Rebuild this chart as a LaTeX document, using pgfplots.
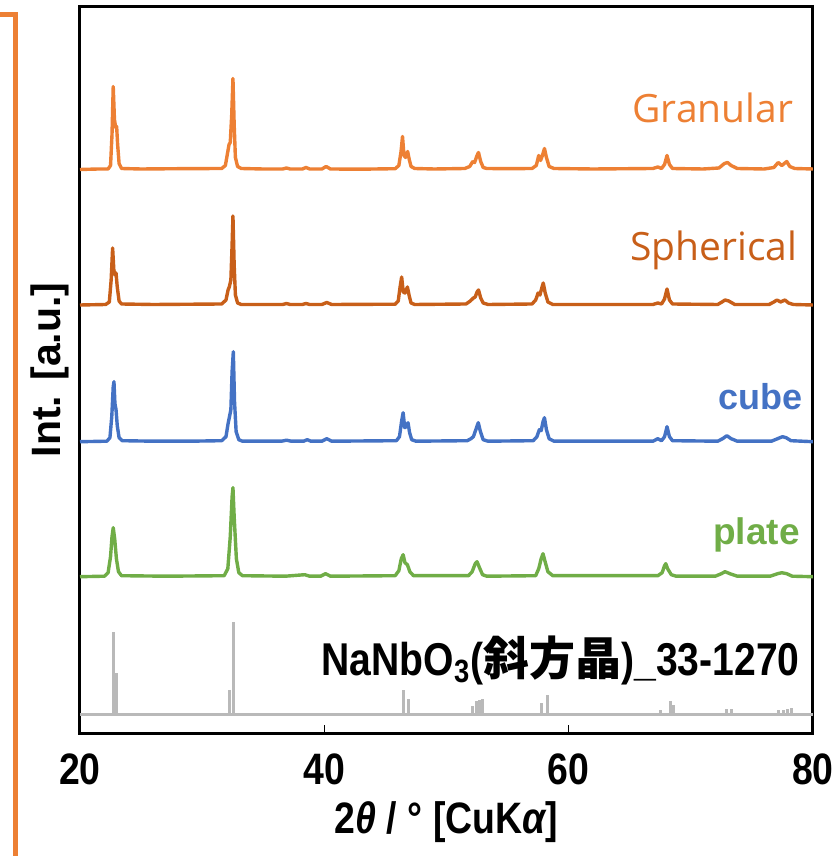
\documentclass[border=0pt]{standalone}
\usepackage{pgfplots}
\pgfplotsset{compat=1.18}
\usepackage{pgfplotstable}
\usepackage{fontspec}
\setmainfont{Liberation Sans}
\newfontfamily\narrowsans{Liberation Sans}[FakeStretch=0.85]
\newfontfamily\cjk{Noto Sans CJK JP}
\newfontfamily\labfont{Open Sans}
\definecolor{granc}{RGB}{237,128,52}
\definecolor{spherc}{RGB}{200,95,25}
\definecolor{cubec}{RGB}{68,114,196}
\definecolor{platec}{RGB}{112,173,71}
\definecolor{refc}{RGB}{185,185,185}

\pgfplotstableread{
x y
20 0
21.5 0.5
22.3 0.5
22.5 4
22.62 35
22.72 83
22.82 50
22.92 42
23.0 43
23.08 25
23.2 6
23.4 1
25 0.5
28 0.8
31.6 1
31.9 4
32.1 18
32.2 25
32.3 27
32.42 55
32.52 91
32.62 45
32.72 12
32.9 3
33.2 1
35 0.5
36.6 0.5
36.9 1.5
37.2 0.5
38.2 0.5
38.5 2
38.8 0.5
39.8 0.5
40.15 3
40.5 0.5
43 0.3
45.8 0.8
46.1 4
46.28 18
46.4 33
46.52 14
46.65 12
46.82 18
46.95 10
47.1 3
47.4 1
49 0.5
51.5 1
51.9 3
52.15 8
52.3 7
52.5 14
52.62 17
52.8 8
53.0 2
53.3 1
55 0.8
57.0 1
57.35 4
57.55 14
57.7 9
57.85 14
58.02 21
58.18 12
58.4 3
58.8 1
62 0.5
66.9 1
67.3 2.5
67.6 1
67.85 5
68.05 14
68.25 5
68.5 1
71 0.5
72.3 1.5
72.75 6
73.0 7
73.3 4
73.8 1
76 0.5
76.8 2
77.15 7
77.45 4
77.85 8
78.1 3
78.5 1
80 0.5
}\granular

\pgfplotstableread{
x y
20 0
22.1 0.5
22.4 3
22.55 25
22.67 57
22.77 35
22.87 30
22.95 32
23.05 18
23.2 4
23.4 1
26 0.5
31.6 1
31.95 5
32.12 15
32.22 18
32.35 25
32.45 60
32.52 89
32.62 40
32.72 10
32.9 2
33.2 0.5
36.6 0.5
36.9 1.5
37.2 0.5
38.2 0.5
38.5 1.5
38.8 0.5
39.8 0.5
40.2 2.5
40.6 0.5
45.8 0.8
46.05 4
46.2 18
46.33 28
46.46 13
46.6 12
46.8 18
46.95 9
47.1 2
47.4 0.5
51.6 1
51.95 4
52.2 7
52.35 8
52.5 13
52.62 15
52.8 7
53.0 2
53.4 0.5
57.0 1
57.3 5
57.5 12
57.65 10
57.8 17
57.92 22
58.08 12
58.3 3
58.7 0.5
66.9 0.5
67.3 2
67.6 1
67.85 6
68.05 16
68.25 5
68.5 1
72.2 0.5
72.55 3
72.8 5
73.1 4
73.6 0.5
76.4 0.5
76.8 3
77.05 5
77.35 3
77.7 5
78.0 2
78.4 0.5
80 0
}\spherical

\pgfplotstableread{
x y
20 0
22.2 0.5
22.45 4
22.6 25
22.72 55
22.78 60
22.86 38
22.95 32
23.05 16
23.2 4
23.45 1
26 0.5
29 0.5
31.6 1
31.95 5
32.12 18
32.22 24
32.35 32
32.45 70
32.55 90
32.65 40
32.78 10
33 2
33.3 0.5
36.5 0.5
36.9 1.5
37.3 0.5
38.3 0.5
38.6 2
38.9 0.5
39.8 0.5
40.2 3
40.6 0.5
45.9 1
46.15 5
46.32 20
46.45 29
46.58 14
46.7 15
46.85 19
46.98 9
47.15 2
47.5 0.5
51.7 1
52.0 3
52.2 5
52.4 12
52.6 19
52.78 10
53.0 2
53.4 0.5
57.1 1
57.4 5
57.6 12
57.75 11
57.9 20
58.02 24
58.18 12
58.4 3
58.8 0.5
66.9 0.5
67.3 3
67.6 1
67.85 5
68.05 15
68.25 5
68.5 1
72.2 0.5
72.6 3
72.95 6
73.3 3
73.8 0.5
76.6 0.5
77.1 3
77.5 5
77.8 4
78.2 1
80 0
}\cube

\pgfplotstableread{
x y
20 0
22.0 0.5
22.3 4
22.5 20
22.62 40
22.72 49
22.84 38
22.98 18
23.15 5
23.4 1
27 0.5
31.8 1
32.1 8
32.3 40
32.45 80
32.52 89
32.62 60
32.8 18
33.0 4
33.3 1
36.8 0.5
38.4 2
38.8 0.5
39.7 0.5
40.1 3
40.5 0.5
45.8 1
46.1 6
46.3 18
46.45 22
46.6 14
46.8 12
47.0 5
47.3 1
51.8 1
52.1 5
52.35 13
52.5 15
52.7 9
52.95 2
53.3 0.5
57.3 1
57.55 8
57.75 18
57.9 23
58.05 16
58.3 5
58.7 1
67.3 1
67.65 4
67.85 11
67.95 13
68.1 8
68.4 2
68.8 0.5
72.0 0.5
72.5 3
72.8 5
73.2 3
73.8 0.5
76.5 0.5
77.1 3
77.45 4
77.85 3
78.3 0.5
80 0
}\plate

\pgfplotstableread{
x y
22.72 82
22.98 41
32.22 24
32.55 92
36.9 1
38.4 1.5
46.45 24
46.92 15
52.15 8
52.45 13
52.68 14
52.95 15
57.75 11
58.25 19
67.55 4
68.3 13
68.55 9
72.9 5
73.3 5
77.2 4
77.55 4
77.9 5
78.25 6
}\refpat

\begin{document}
\begin{tikzpicture}
\begin{axis}[
  scale only axis,
  width=366.5pt, height=363pt,
  xmin=20, xmax=80, ymin=-19, ymax=707,
  xtick={20,40,60,80}, ytick=\empty,
  xtick pos=lower,
  major tick length=4pt,
  tick style={black, line width=0.8pt},
  axis line style={black, line width=1.5pt},
  /pgf/number format/assume math mode=true,
  xticklabel style={font=\narrowsans\bfseries\fontsize{22}{22}\selectfont, yshift=-7pt},
  xlabel={\narrowsans\bfseries\fontsize{22}{22}\selectfont 2{\itshape θ} / ° [CuK{\itshape α}]},
  xlabel style={at={(axis description cs:0.500,-0.123)}, anchor=center},
  ylabel={\bfseries\fontsize{20.5}{20.5}\selectfont Int. [a.u.]},
  ylabel style={at={(axis description cs:-0.041,0.5)}, anchor=center, rotate=0},
  clip=true,
]
\addplot[refc, line width=1.5pt] coordinates {(20,0) (80,0)};
\addplot[refc, ycomb, line width=1.5pt] table[x=x, y=y] {\refpat};
\addplot[platec, line width=1.7pt, line join=round] table[x=x, y expr=\thisrow{y}+137.3] {\plate};
\addplot[cubec, line width=1.7pt, line join=round] table[x=x, y expr=\thisrow{y}+272.3] {\cube};
\addplot[spherc, line width=1.7pt, line join=round] table[x=x, y expr=\thisrow{y}+409] {\spherical};
\addplot[granc, line width=1.7pt, line join=round] table[x=x, y expr=\thisrow{y}+544.5] {\granular};

\node[anchor=east, text=granc, inner sep=0pt, font=\labfont\fontsize{19.5}{19.5}\selectfont] at (axis cs:78.4,606) {Granular};
\node[anchor=east, text=spherc, inner sep=0pt, font=\labfont\fontsize{19.5}{19.5}\selectfont] at (axis cs:78.75,464) {Spherical};
\node[anchor=east, text=cubec, inner sep=0pt, font=\bfseries\fontsize{18}{18}\selectfont] at (axis cs:79.18,317) {cube};
\node[anchor=east, text=platec, inner sep=0pt, font=\bfseries\fontsize{18.5}{18.5}\selectfont] at (axis cs:78.94,179) {plate};
\node[anchor=east, text=black, inner sep=0pt, font=\narrowsans\bfseries\fontsize{23}{23}\selectfont] at (axis cs:78.94,54) {NaNbO\textsubscript{3}({\cjk\bfseries 斜方晶})\_33-1270};
\end{axis}
\draw[granc, line width=2.5pt] (-40pt,359pt) -- (-32.5pt,359pt) -- (-32.5pt,-62pt);
\pgfresetboundingbox
\path[use as bounding box] (-40pt,-61.5pt) rectangle (378pt,366.5pt);
\end{tikzpicture}
\end{document}
